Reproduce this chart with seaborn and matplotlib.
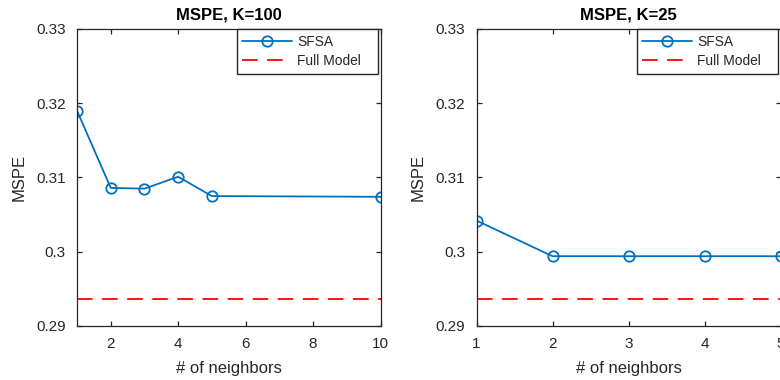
import matplotlib
matplotlib.use("Agg")
import matplotlib.pyplot as plt
import seaborn as sns
import pandas as pd

# Mean squared prediction error versus neighbourhood size
neighbors_k100 = [1, 2, 3, 4, 5, 10]
sfsa_k100 = [0.3190, 0.3086, 0.3085, 0.3101, 0.3075, 0.3074]
full_k100 = 0.2937

neighbors_k25 = [1, 2, 3, 4, 5]
sfsa_k25 = [0.3042, 0.2994, 0.2994, 0.2994, 0.2994]
full_k25 = 0.2937

titles = ["MSPE, K=100", "MSPE, K=25"]
xticks_k100 = [2, 4, 6, 8, 10]
xticks_k25 = [1, 2, 3, 4, 5]
yticks = [0.29, 0.30, 0.31, 0.32, 0.33]
ytick_labels = ["0.29", "0.3", "0.31", "0.32", "0.33"]

BLUE = "#0072BD"
RED = "#FF0000"
AXIS = "#262626"
LW = 1.3

sns.set_style("ticks")
plt.rcParams["font.family"] = ["Liberation Sans", "DejaVu Sans"]
plt.rcParams["axes.edgecolor"] = AXIS
plt.rcParams["axes.linewidth"] = 0.9

fig = plt.figure(figsize=(7.8, 3.8), dpi=100)
W, H = 780, 380
top, bottom = 29, 326


def make_axes(left_px, right_px):
    return fig.add_axes([left_px / W, 1 - bottom / H,
                         (right_px - left_px) / W, (bottom - top) / H])


panels = [
    (make_axes(77, 380.5), neighbors_k100, sfsa_k100, full_k100, xticks_k100, titles[0]),
    (make_axes(476.5, 780.5), neighbors_k25, sfsa_k25, full_k25, xticks_k25, titles[1]),
]

for ax, xs, ys, full, xt, title in panels:
    df = pd.DataFrame({"neighbors": xs, "MSPE": ys})
    sns.lineplot(data=df, x="neighbors", y="MSPE", ax=ax, color=BLUE,
                 linewidth=LW, marker="o", markersize=7.5,
                 markerfacecolor="none", markeredgecolor=BLUE,
                 markeredgewidth=LW, label="SFSA")
    ax.axhline(full, color=RED, linewidth=LW, dashes=(8.6, 5.3),
               label="Full Model")
    ax.set_xlim(xs[0], xs[-1])
    ax.set_ylim(yticks[0], yticks[-1])
    ax.set_xticks(xt)
    ax.set_yticks(yticks)
    ax.set_yticklabels(ytick_labels)
    ax.tick_params(direction="in", length=3.5, width=0.9, top=True,
                   right=True, labelsize=11, pad=8, colors=AXIS,
                   labelcolor=AXIS)
    for sp in ax.spines.values():
        sp.set_visible(True)
        sp.set_color(AXIS)
        sp.set_linewidth(0.9)
    ax.set_xlabel("# of neighbors", fontsize=12, color=AXIS, labelpad=7)
    ax.set_ylabel("MSPE", fontsize=12, color=AXIS, labelpad=7)
    ax.set_title(title, fontsize=12, fontweight="bold", color="black", pad=7)
    # legend box spans a fixed width in the upper-right corner
    leg = ax.legend(loc="upper left", bbox_to_anchor=(0.527, 0.0, 0.466, 1.0),
                    mode="expand", borderaxespad=0.0, fontsize=9.9,
                    frameon=True, fancybox=False, framealpha=1,
                    edgecolor=AXIS, handlelength=3.6, handletextpad=0.4,
                    labelspacing=0.4, borderpad=0.4)
    leg.get_frame().set_linewidth(1.0)

fig.savefig("out.png", dpi=100)
